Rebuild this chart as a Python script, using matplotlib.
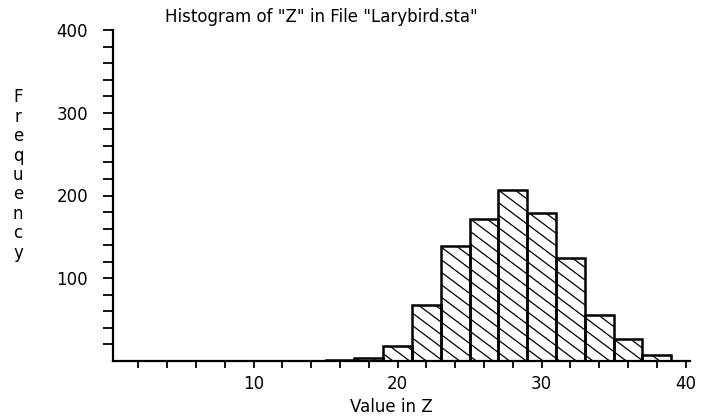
import numpy as np
import matplotlib
matplotlib.use("Agg")
import matplotlib.pyplot as plt
from matplotlib.ticker import FixedLocator
from matplotlib.collections import LineCollection

# histogram bins (left edges, width 2) and counts
bin_left = [15, 17, 19, 21, 23, 25, 27, 29, 31, 33, 35, 37]
counts = [1, 4, 18, 68, 139, 172, 207, 179, 125, 56, 27, 7]
bin_width = 2

x_major = [10, 20, 30, 40]
y_major = [100, 200, 300, 400]

plt.rcParams['font.family'] = ['DejaVu Sans']

fig = plt.figure(figsize=(7.01, 4.17), dpi=100)
ax = fig.add_axes([113/701, 1 - 361/417, 577/701, 331/417])
ax.set_xlim(0.23, 40.3)
ax.set_ylim(0, 400)

bars = ax.bar(bin_left, counts, width=bin_width, align='edge', color='white',
              edgecolor='black', linewidth=1.8, zorder=2)

# shallow diagonal hatching like the old bitmap brush (about 37 deg, 12.5 px apart)
p0 = ax.transData.transform((0, 0))
p1 = ax.transData.transform((1, 1))
px_x, px_y = p1 - p0
slope = 0.75 * px_x / px_y       # data units of y per unit of x
gap = 12.5 / px_y                # vertical distance between lines, data units
for b in bars:
    x0, w, h = b.get_x(), b.get_width(), b.get_height()
    k_lo = int(np.floor(slope * x0 / gap)) - 1
    k_hi = int(np.ceil((h + slope * (x0 + w)) / gap)) + 1
    segs = []
    for k in range(k_lo, k_hi + 1):
        c = k * gap
        segs.append([(x0, c - slope * x0), (x0 + w, c - slope * (x0 + w))])
    lc = LineCollection(segs, colors='black', linewidths=0.9, zorder=2.5)
    ax.add_collection(lc)
    lc.set_clip_path(b)
    # redraw edge on top of hatching
    b.set_zorder(3)
    b.set_facecolor('none')

ax.set_xlim(0.23, 40.3)
ax.set_ylim(0, 400)

for s in ['top', 'right']:
    ax.spines[s].set_visible(False)
for s in ['left', 'bottom']:
    ax.spines[s].set_linewidth(1.6)

ax.xaxis.set_major_locator(FixedLocator(x_major))
ax.xaxis.set_minor_locator(FixedLocator([v for v in range(2, 41, 2) if v not in x_major]))
ax.yaxis.set_major_locator(FixedLocator(y_major))
ax.yaxis.set_minor_locator(FixedLocator([v for v in range(20, 401, 20) if v not in y_major]))
ax.tick_params(axis='both', which='both', direction='out', width=1.3, colors='black')
ax.tick_params(axis='x', which='both', length=5, pad=5, labelsize=12)
ax.tick_params(axis='y', which='both', length=7, pad=11, labelsize=12)

ax.set_xlabel('Value in Z', fontsize=12)
ax.xaxis.set_label_coords((391 - 113) / 577, -(398 - 361) / 331)
ax.set_title('Histogram of "Z" in File "Larybird.sta"', fontsize=12, pad=6,
             x=(321 - 113) / 577)
fig.text(18/701, 1 - 175/417, '\n'.join('Frequency'), fontsize=12,
         ha='center', va='center', linespacing=1.1)

fig.savefig('out.png', dpi=100)
